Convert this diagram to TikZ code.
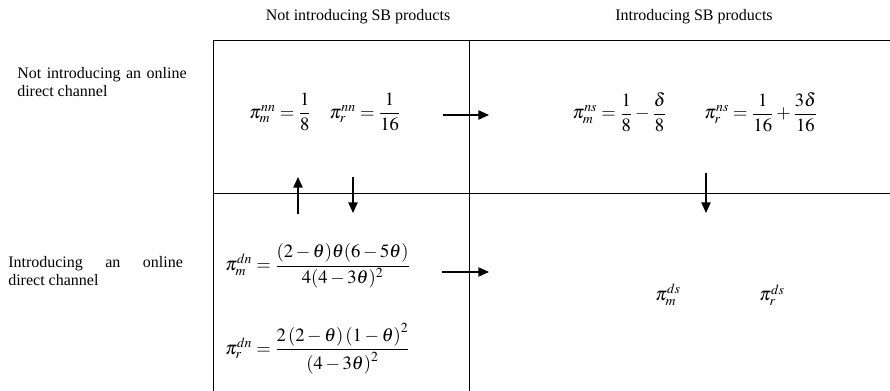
\documentclass[tikz,border=0pt]{standalone}
\usepackage{mathptmx}
\usepackage[no-math]{fontspec}
\setmainfont{Liberation Serif}
\usepackage{amsmath}
\usetikzlibrary{positioning,arrows.meta}

\begin{document}
\begin{tikzpicture}[x=0.75pt,y=-0.75pt,
    grid/.style={line width=0.6pt},
    move/.style={line width=1.1pt,-{Triangle[length=8pt,width=7pt]}},
    head/.style={font=\fontsize{12}{13.5}\selectfont},
    rowlab/.style={font=\fontsize{12}{13.5}\selectfont,anchor=west,align=justify,inner sep=0pt},
    eq/.style={font=\fontsize{14}{17}\selectfont,inner sep=0pt}]
    \useasboundingbox (0,0) rectangle (890,391);

    % Table lines
    \draw[grid] (890,40) -- (213,40) -- (213,391);
    \draw[grid] (469,40) -- (469,391);
    \draw[grid] (213,193) -- (890,193);

    % Column headers
    \node[head] (colnot) at (358,17) {Not introducing SB products};
    \node[head] (colsb) at (694,17) {Introducing SB products};

    % Row headers
    \node[rowlab,text width=127pt] (rownot) at (17,82) {Not introducing an online\linebreak direct channel};
    \node[rowlab,text width=131pt] (rowdc) at (8,271) {Introducing an online\linebreak direct channel};

    % Profits in each cell
    \node[eq] (nn) at (325,112) {$\pi_m^{nn}=\dfrac{1}{8}\quad\pi_r^{nn}=\dfrac{1}{16}$};
    \node[eq] (ns) at (695,112) {$\pi_m^{ns}=\dfrac{1}{8}-\dfrac{\delta}{8}\qquad\pi_r^{ns}=\dfrac{1}{16}+\dfrac{3\delta}{16}$};
    \node[eq,anchor=west] (dnm) at (225,266) {$\pi_m^{dn}=\dfrac{(2-\theta)\theta(6-5\theta)}{4(4-3\theta)^2}$};
    \node[eq,anchor=west] (dnr) at (225,349) {$\pi_r^{dn}=\dfrac{2\left(2-\theta\right)\left(1-\theta\right)^2}{\left(4-3\theta\right)^2}$};
    \node[eq] (dsm) at (668,295) {$\pi_m^{ds}$};
    \node[eq] (dsr) at (772,295) {$\pi_r^{ds}$};

    % Arrows between cells
    \coordinate (topa) at (443,115);
    \coordinate (topb) at (489,115);
    \coordinate (bota) at (442,272);
    \coordinate (botb) at (489,272);
    \coordinate (upa) at (298,214);
    \coordinate (upb) at (298,177);
    \coordinate (dna) at (353,177);
    \coordinate (dnb) at (353,213);
    \coordinate (rda) at (706,173);
    \coordinate (rdb) at (706,213);
    \draw[move] (topa) -- (topb);
    \draw[move] (bota) -- (botb);
    \draw[move] (upa) -- (upb);
    \draw[move] (dna) -- (dnb);
    \draw[move] (rda) -- (rdb);
\end{tikzpicture}
\end{document}
